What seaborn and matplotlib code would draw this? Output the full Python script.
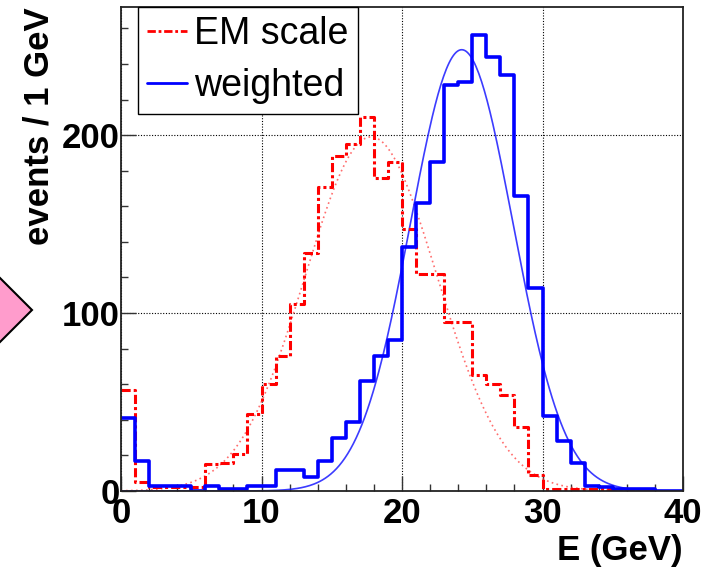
"""
EM scale vs weighted energy - histograms with gaussian fits
"""

import numpy as np
import pandas as pd
import matplotlib
matplotlib.use("Agg")
import matplotlib.pyplot as plt
from matplotlib.lines import Line2D
from matplotlib.patches import Polygon
import seaborn as sns

# 1 GeV bins from 0 to 40
bin_edges = list(range(0, 41))

em_counts = [57, 5, 2, 2, 2, 2, 15, 16, 21, 43,
             60, 76, 105, 134, 171, 188, 195, 210, 176, 185,
             147, 122, 122, 95, 95, 65, 60, 54, 36, 9,
             1, 1, 1, 1, 1, 1, 1, 1, 0, 0]

weighted_counts = [41, 17, 3, 3, 3, 0, 3, 1, 1, 3,
                   3, 12, 12, 8, 17, 30, 39, 62, 76, 85,
                   137, 162, 185, 228, 230, 256, 244, 234, 166, 114,
                   42, 28, 16, 3, 2, 1, 1, 1, 0, 0]

# gaussian fit parameters (amplitude, mean, sigma)
em_fit = (199, 17.8, 4.7)
weighted_fit = (248, 24.25, 3.65)

labels = ["EM scale", "weighted"]


def gauss(x, amp, mu, sig):
    return amp * np.exp(-0.5 * ((x - mu) / sig) ** 2)


sns.set_style("white")
plt.rcParams['font.family'] = ['Liberation Sans', 'DejaVu Sans']
plt.rcParams.update({"text.color": "black", "axes.labelcolor": "black",
                     "xtick.labelcolor": "black", "ytick.labelcolor": "black"})

fig = plt.figure(figsize=(7.17, 5.67), dpi=100)
ax = fig.add_axes([121 / 717, 1 - 491 / 567, 562 / 717, 484 / 567])

centers = np.array(bin_edges[:-1]) + 0.5
df_em = pd.DataFrame({"E": centers, "n": em_counts})
df_w = pd.DataFrame({"E": centers, "n": weighted_counts})
em_dash = (0, (3, 1, 1, 1))

# fits first so the histograms sit on top
xf = np.linspace(0, 40, 400)
sns.lineplot(x=xf, y=gauss(xf, *em_fit), ax=ax, color="#ff3030", lw=1.2,
             linestyle=(0, (1, 2)), alpha=0.7)
sns.lineplot(x=xf, y=gauss(xf, *weighted_fit), ax=ax, color="#1a1aff", lw=1.2,
             alpha=0.85)

sns.histplot(data=df_em, x="E", weights="n", bins=bin_edges, element="step",
             fill=False, color="red", linewidth=2.2, linestyle=em_dash, ax=ax)
sns.histplot(data=df_w, x="E", weights="n", bins=bin_edges, element="step",
             fill=False, color="blue", linewidth=2.6, ax=ax)

ax.set_xlim(0, 40)
ax.set_ylim(0, 272)

ax.xaxis.set_major_locator(matplotlib.ticker.MultipleLocator(10))
ax.xaxis.set_minor_locator(matplotlib.ticker.MultipleLocator(2))
ax.yaxis.set_major_locator(matplotlib.ticker.MultipleLocator(100))
ax.yaxis.set_minor_locator(matplotlib.ticker.MultipleLocator(20))
ax.tick_params(which="both", direction="in", top=False, right=False,
               bottom=True, left=True, width=1, color="#333333")
ax.tick_params(which="major", length=11, labelsize=25, pad=4)
ax.tick_params(axis="y", which="major", pad=1)
ax.tick_params(which="minor", length=5)
for lab in ax.get_xticklabels() + ax.get_yticklabels():
    lab.set_fontweight("bold")

ax.grid(True, which="major", color="black", linestyle=(0, (1, 1.5)), lw=0.8)
for sp in ax.spines.values():
    sp.set_color("#222222")
    sp.set_linewidth(1.3)

ax.set_xlabel("E (GeV)", fontsize=25, fontweight="bold", loc="right")
ax.set_ylabel("events / 1 GeV", fontsize=25, fontweight="bold", loc="top")
ax.xaxis.set_label_coords(1.0, -0.088)
ax.yaxis.set_label_coords(-0.117, 1.0)

handles = [Line2D([], [], color="red", lw=2, linestyle=em_dash),
           Line2D([], [], color="blue", lw=2)]
leg = ax.legend(handles, labels, loc="upper left", bbox_to_anchor=(0.03, 1.0),
                fontsize=27, frameon=True, fancybox=False, framealpha=1,
                edgecolor="black", handlelength=1.05, handletextpad=0.2,
                labelspacing=0.42, borderpad=0.25, borderaxespad=0)
leg.get_frame().set_linewidth(1.0)

# pink arrow tip poking in from the slide on the left
pts = [(32, 310), (-40, 238), (-40, 382)]
diamond = Polygon([(x / 717, 1 - y / 567) for x, y in pts], closed=True,
                  transform=fig.transFigure, facecolor="#ff9ccc",
                  edgecolor="black", lw=1.5)
fig.patches.append(diamond)

fig.savefig("out.png", dpi=100)
